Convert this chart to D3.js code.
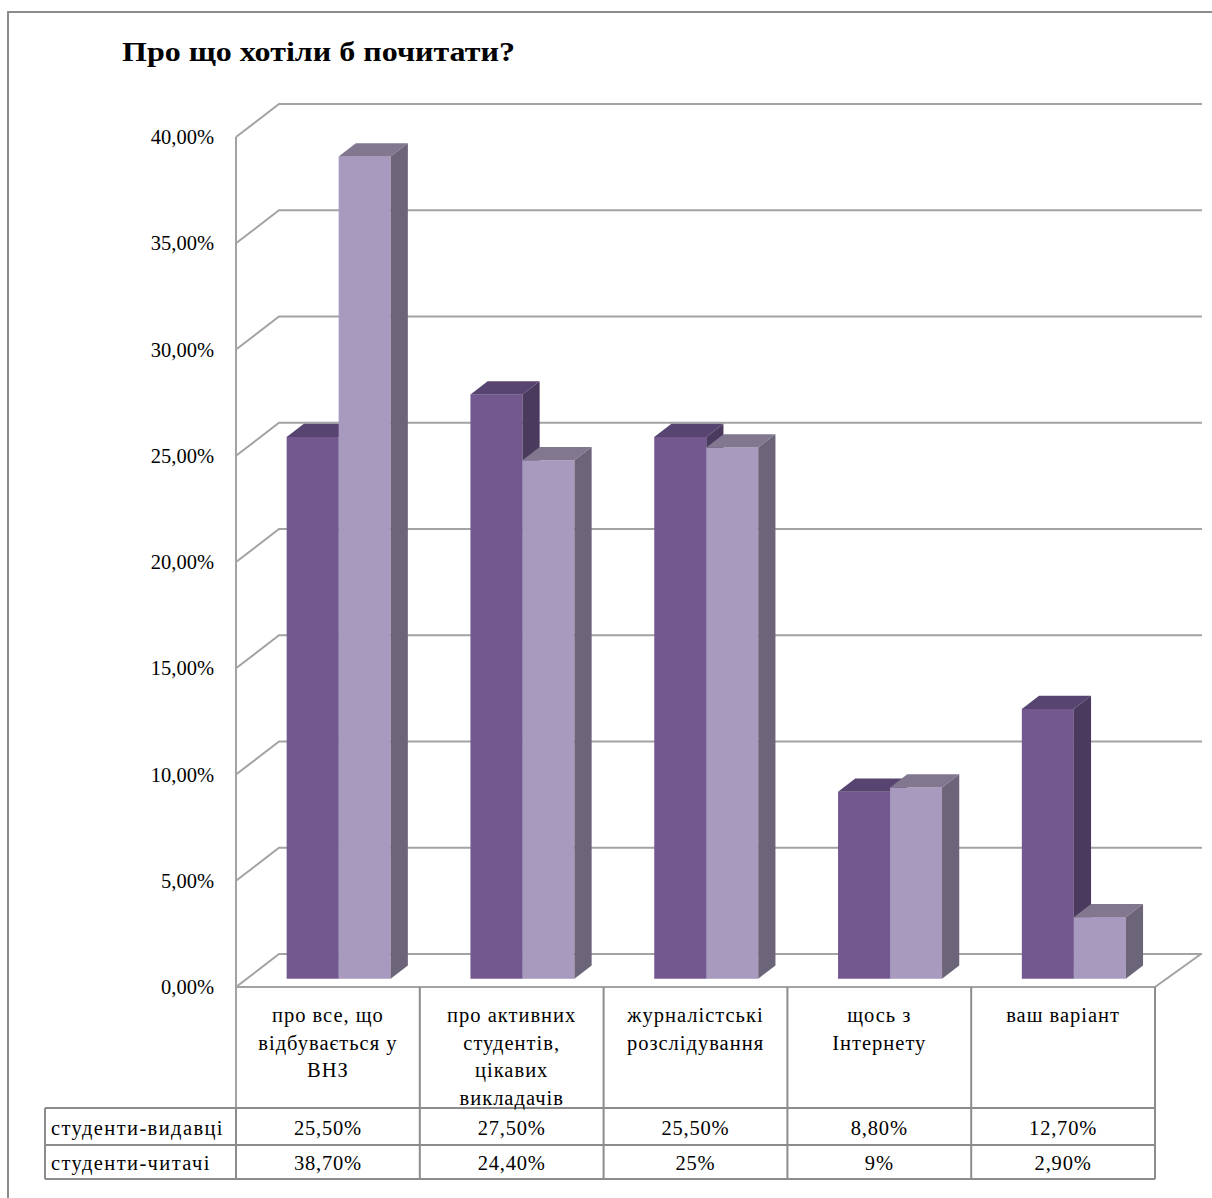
<!DOCTYPE html>
<html><head><meta charset="utf-8">
<script src="https://cdn.jsdelivr.net/npm/d3@7"></script>
<style>body{margin:0;background:#fff}svg{display:block}</style>
</head><body>
<script>
const title = "Про що хотіли б почитати?";
const categories = ["про все, що\nвідбувається у\nВНЗ", "про активних\nстудентів,\nцікавих\nвикладачів", "журналістські\nрозслідування", "щось з\nІнтернету", "ваш варіант"];
const seriesNames = ["студенти-видавці", "студенти-читачі"];
const publishers = [0.255, 0.275, 0.255, 0.088, 0.127];
const readers = [0.387, 0.244, 0.25, 0.09, 0.029];
const publishersLabels = ["25,50%", "27,50%", "25,50%", "8,80%", "12,70%"];
const readersLabels = ["38,70%", "24,40%", "25%", "9%", "2,90%"];
const tickValues = [0, 0.05, 0.10, 0.15, 0.20, 0.25, 0.30, 0.35, 0.40];
const tickLabels = ["0,00%", "5,00%", "10,00%", "15,00%", "20,00%", "25,00%", "30,00%", "35,00%", "40,00%"];

const W = 1212, H = 1198;
const svg = d3.select("body").append("svg").attr("width", W).attr("height", H);
const font = "'Liberation Serif','Times New Roman',serif";

// outer border
svg.append("rect").attr("x", 8).attr("y", 12).attr("width", 1230).attr("height", 1230)
  .attr("fill", "none").attr("stroke", "#8c8c8c").attr("stroke-width", 2);

svg.append("text").attr("x", 122).attr("y", 61).text(title)
  .attr("font-family", font).attr("font-weight", "bold").attr("font-size", 27)
  .attr("textLength", 393).attr("lengthAdjust", "spacingAndGlyphs").attr("fill", "#000");

const x0 = 236, x1 = 1155;
const DX = 43, DY = -33;
const y = d3.scaleLinear().domain([0, 0.40]).range([987, 137]);
const x = d3.scaleBand().domain(categories).range([x0, x1]);
const barW = 52;
const xs = d3.scaleBand().domain(seriesNames).range([-barW, barW]);

const grid = "#a3a3a3";
const g = svg.append("g");
// left wall lines
g.append("line").attr("x1", x0).attr("x2", x0).attr("y1", y(0.40)).attr("y2", 1108)
  .attr("stroke", grid).attr("stroke-width", 2);
tickValues.forEach(v => {
  g.append("polyline")
    .attr("points", [[x0, y(v)], [x0 + DX, y(v) + DY], [1202, y(v) + DY]].map(p => p.join(",")).join(" "))
    .attr("fill", "none").attr("stroke", grid).attr("stroke-width", 2);
});
// floor
g.append("polyline")
  .attr("points", [[x0, y(0)], [x1, y(0)], [x1 + 46, y(0) + DY]].map(p => p.join(",")).join(" "))
  .attr("fill", "none").attr("stroke", grid).attr("stroke-width", 2);

// tick labels
const axis = d3.axisLeft(y).tickValues(tickValues).tickFormat((d, i) => tickLabels[i]).tickSize(0).tickPadding(0);
const ag = svg.append("g").attr("transform", "translate(214,0)").call(axis);
ag.select(".domain").remove();
ag.attr("font-family", font);
ag.selectAll("text").attr("font-family", font).attr("font-size", 20.5).attr("fill", "#000")
  .attr("dy", "0.32em").attr("x", 0);

// bars
const tFront = 0.25, tDepth = 0.40;
const colors = [
  {front: "#73588f", top: "#574470", side: "#4a3a5d"},
  {front: "#a899be", top: "#81778f", side: "#6c6479"}
];
const data = [publishers, readers];
const bars = svg.append("g");
categories.forEach((c, ci) => {
  seriesNames.forEach((s, si) => {
    const v = data[si][ci];
    const ox = tFront * DX, oy = tFront * DY;
    const bx = x(c) + x.bandwidth() / 2 + xs(s) + ox;
    const bw = xs.bandwidth();
    const yt = y(v) + oy, yb = y(0) + oy;
    const dx = tDepth * DX, dy = tDepth * DY;
    const col = colors[si];
    bars.append("rect").attr("x", bx).attr("y", yt).attr("width", bw).attr("height", yb - yt).attr("fill", col.front);
    bars.append("polygon").attr("points", [[bx, yt], [bx + dx, yt + dy], [bx + bw + dx, yt + dy], [bx + bw, yt]].map(p => p.join(",")).join(" ")).attr("fill", col.top);
    bars.append("polygon").attr("points", [[bx + bw, yt], [bx + bw + dx, yt + dy], [bx + bw + dx, yb + dy], [bx + bw, yb]].map(p => p.join(",")).join(" ")).attr("fill", col.side);
  });
});

// data table
const tl = "#8c8c8c";
const t = svg.append("g");
const headTop = y(0), headBot = 1108, row1 = 1145, row2 = 1179, legL = 45;
categories.forEach(c => {
  t.append("line").attr("x1", x(c) + x.bandwidth()).attr("x2", x(c) + x.bandwidth()).attr("y1", headTop).attr("y2", row2)
    .attr("stroke", tl).attr("stroke-width", 2);
});
t.append("line").attr("x1", x0).attr("x2", x0).attr("y1", headBot).attr("y2", row2).attr("stroke", tl).attr("stroke-width", 2);
t.append("line").attr("x1", legL).attr("x2", legL).attr("y1", headBot).attr("y2", row2).attr("stroke", tl).attr("stroke-width", 2);
[headBot, row1, row2].forEach(yy => {
  t.append("line").attr("x1", legL).attr("x2", x1).attr("y1", yy).attr("y2", yy).attr("stroke", tl).attr("stroke-width", 2);
});
// category labels
categories.forEach(c => {
  const lines = c.split("\n");
  const tx = t.append("text").attr("font-family", font).attr("font-size", 20.5).attr("letter-spacing", 1)
    .attr("text-anchor", "middle").attr("fill", "#000");
  lines.forEach((ln, li) => {
    tx.append("tspan").attr("x", x(c) + x.bandwidth() / 2).attr("y", 1022 + li * 27.5).text(ln);
  });
});
// rows
const rowLabels = [publishersLabels, readersLabels];
const baselines = [1135, 1170];
seriesNames.forEach((s, si) => {
  t.append("text").attr("x", 51).attr("y", baselines[si]).text(s)
    .attr("font-family", font).attr("font-size", 20.5).attr("letter-spacing", 1.4).attr("fill", "#000");
  categories.forEach((c, ci) => {
    t.append("text").attr("x", x(c) + x.bandwidth() / 2).attr("y", baselines[si]).text(rowLabels[si][ci])
      .attr("font-family", font).attr("font-size", 20.5).attr("letter-spacing", 0.8)
      .attr("text-anchor", "middle").attr("fill", "#000");
  });
});
</script>
</body></html>
